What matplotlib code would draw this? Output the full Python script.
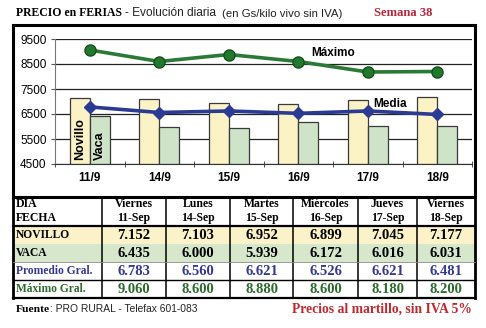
import matplotlib
matplotlib.use("Agg")
import matplotlib.pyplot as plt
from matplotlib.patches import Rectangle
import numpy as np

# data
fechas = ["11/9", "14/9", "15/9", "16/9", "17/9", "18/9"]
dias = ["Viernes", "Lunes", "Martes", "Miércoles", "Jueves", "Viernes"]
fechas_tabla = ["11-Sep", "14-Sep", "15-Sep", "16-Sep", "17-Sep", "18-Sep"]
novillo = [7152, 7103, 6952, 6899, 7045, 7177]
vaca = [6435, 6000, 5939, 6172, 6016, 6031]
media = [6783, 6560, 6621, 6526, 6621, 6481]
maximo = [9060, 8600, 8880, 8600, 8180, 8200]
yticks = [4500, 5500, 6500, 7500, 8500, 9500]

W, H = 486, 328
fig = plt.figure(figsize=(W / 100, H / 100), dpi=100)
fig.patch.set_facecolor("white")
renderer = fig.canvas.get_renderer()

serif = "Liberation Serif"
sans = "Liberation Sans"

def fmt(v):
    return f"{v:,}".replace(",", ".")

def fit_text(a, x, y, s, width, **kw):
    # scale font so the text takes the width it has in the picture
    t = a.text(x, y, s, fontsize=10, **kw)
    bb = t.get_window_extent(renderer)
    t.set_fontsize(10 * width / bb.width)
    return t

# chart
ax = fig.add_axes([55 / W, 1 - 164 / H, (472 - 55) / W, (164 - 39) / H])
x = np.arange(len(fechas))
bw = 0.29
ax.set_axisbelow(True)
ax.grid(axis="y", color="#222222", lw=0.9)
ax.bar(x - bw / 2, np.array(novillo) - 4500, bw, bottom=4500, color="#fbf3c6",
       edgecolor="#3a3a3a", lw=0.9, zorder=2)
ax.bar(x + bw / 2, np.array(vaca) - 4500, bw, bottom=4500, color="#cfe3c8",
       edgecolor="#3a3a3a", lw=0.9, zorder=2)
ax.plot(x, media, color="#2b3b94", lw=2.6, marker="D", ms=6, mfc="#2b3b94",
        mec="#2b3b94", zorder=4)
ax.plot(x, maximo, color="#2a7a35", lw=2.6, marker="o", ms=8, mfc="#1f7a2e",
        mec="#14501e", zorder=4)
ax.text(0 - bw / 2, 4680, "Novillo", rotation=90, ha="center", va="bottom",
        fontsize=9, fontweight="bold", family=sans, zorder=3)
ax.text(0 + bw / 2, 4680, "Vaca", rotation=90, ha="center", va="bottom",
        fontsize=9, fontweight="bold", family=sans, zorder=3)
ax.text(3.5, 8950, "Máximo", fontsize=8.5, fontweight="bold",
        family=sans, ha="center", va="center", zorder=5)
ax.text(4.32, 6900, "Media", fontsize=8.5, fontweight="bold",
        family=sans, ha="center", va="center", zorder=5)
ax.set_xlim(-0.5, len(fechas) - 0.5)
ax.set_ylim(4500, 9500)
ax.set_yticks(yticks)
ax.set_yticklabels([str(t) for t in yticks], fontsize=8.5, family=sans)
ax.set_xticks(x)
ax.set_xticklabels(fechas, fontsize=8.5, fontweight="bold", family=sans)
ax.set_xticks(np.arange(len(fechas) + 1) - 0.5, minor=True)
ax.tick_params(axis="x", which="major", length=0, pad=6)
ax.tick_params(axis="x", which="minor", length=5, direction="inout", color="#333333")
ax.tick_params(axis="y", length=3, color="#555555", pad=3)
for s in ["top", "right"]:
    ax.spines[s].set_visible(False)
ax.spines["left"].set_color("#777777")
ax.spines["bottom"].set_color("#333333")

# overlays for frame, table and texts (pixel coordinates)
ov = fig.add_axes([0, 0, 1, 1], zorder=-1)
ov.set_xlim(0, W)
ov.set_ylim(H, 0)
ov.axis("off")

ov2 = fig.add_axes([0, 0, 1, 1], zorder=10)
ov2.set_xlim(0, W)
ov2.set_ylim(H, 0)
ov2.axis("off")
ov2.patch.set_alpha(0)

ov2.add_patch(Rectangle((13, 25), 462, 172, fill=False, ec="black", lw=2.2))

cols = [13, 102, 166, 230, 293, 358, 417, 475]
rows = [197, 226, 244, 262, 280, 298]
row_bg = [None, "#fbf2c9", "#d6e7cc", None, None]
for i, bg in enumerate(row_bg):
    if bg:
        ov.add_patch(Rectangle((13, rows[i]), 462, rows[i + 1] - rows[i],
                               color=bg, lw=0))
for c in cols[1:-1]:
    ov2.plot([c, c], [197, 298], color="black", lw=1.1)
ov2.plot([13, 13], [197, 298], color="black", lw=2.0)
ov2.plot([475, 475], [197, 298], color="black", lw=2.0)
ov2.plot([13, 475], [226, 226], color="black", lw=1.6)
ov2.plot([13, 475], [262, 262], color="#888888", lw=0.6)
ov2.plot([13, 475], [280, 280], color="black", lw=1.0)
ov2.plot([13, 475], [298, 298], color="black", lw=1.6)

ov2.text(16, 204, "DIA", fontsize=8.5, fontweight="bold", family=serif, va="center")
ov2.text(16, 218, "FECHA", fontsize=8.5, fontweight="bold", family=serif, va="center")
labels = ["NOVILLO", "VACA", "Promedio Gral.", "Máximo Gral."]
lcolors = ["black", "black", "#34388f", "#2d6a2d"]
series = [novillo, vaca, media, maximo]
for r, (lab, col, vals) in enumerate(zip(labels, lcolors, series)):
    yc = (rows[r + 1] + rows[r + 2]) / 2
    ov2.text(16, yc, lab, fontsize=8.3, fontweight="bold", family=serif,
             color=col, va="center")
    for j, v in enumerate(vals):
        xc = (cols[j + 1] + cols[j + 2]) / 2
        ov2.text(xc, yc + 0.5, fmt(v), fontsize=10.5, family=serif, color=col,
                 ha="center", va="center", fontweight="bold")
for j in range(len(dias)):
    xc = (cols[j + 1] + cols[j + 2]) / 2
    ov2.text(xc, 204, dias[j], fontsize=8.5, fontweight="bold", family=serif,
             ha="center", va="center")
    ov2.text(xc, 218, fechas_tabla[j], fontsize=8.5, fontweight="bold",
             family=serif, ha="center", va="center")

# titles and footer
fit_text(ov2, 16, 13, "PRECIO en FERIAS", 106, fontweight="bold", family=serif, va="center")
fit_text(ov2, 125, 13.5, "- Evolución diaria", 92, family=sans, va="center", color="#222222")
fit_text(ov2, 222, 14, "(en Gs/kilo vivo sin IVA)", 120, family=sans, va="center", color="#222222")
fit_text(ov2, 374, 13, "Semana 38", 59, fontweight="bold", family=serif, va="center", color="#b8283a")
t = fit_text(ov2, 16, 309, "Fuente", 34, fontweight="bold", family=serif, va="center")
fit_text(ov2, 50, 309, ": PRO RURAL - Telefax 601-083", 147, family=sans, va="center", color="#222222")
fit_text(ov2, 472, 309.5, "Precios al martillo, sin IVA 5%", 179, fontweight="bold",
         family=serif, va="center", ha="right", color="#c0282e")

fig.savefig("out.png", dpi=100)
